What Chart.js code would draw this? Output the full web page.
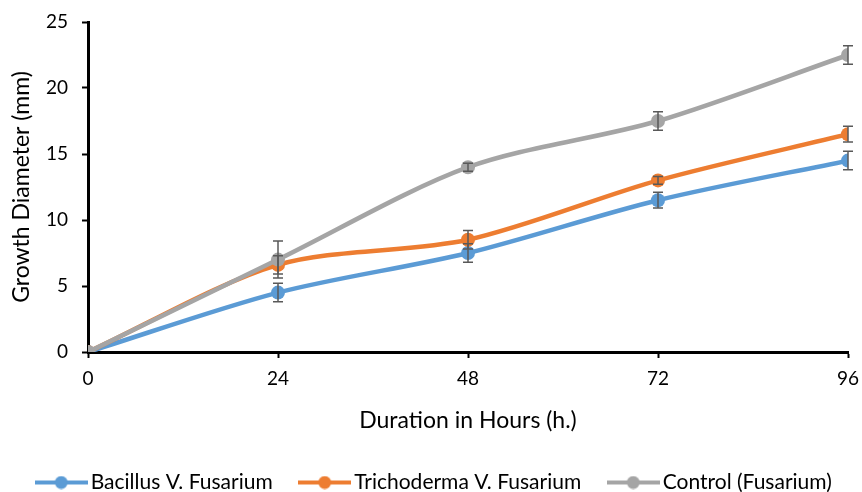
<!DOCTYPE html>
<html>
<head>
<meta charset="utf-8">
<script src="https://cdn.jsdelivr.net/npm/chart.js@4.4.1/dist/chart.umd.min.js"></script>
<style>
    html, body { margin: 0; padding: 0; background: #fff; }
    #wrap { width: 862px; height: 492px; }
</style>
</head>
<body>
<div id="wrap"><canvas id="chart1"></canvas></div>
<script>
const hours = [0, 24, 48, 72, 96];
const bacillus = [0, 4.5, 7.5, 11.5, 14.5];
const trichoderma = [0, 6.6, 8.5, 13, 16.5];
const control = [0, 7, 14, 17.5, 22.5];
const bacillusErr = [0, 0.7, 0.7, 0.6, 0.7];
const trichodermaErr = [0, 0.7, 0.7, 0.3, 0.6];
const controlErr = [0, 1.4, 0.3, 0.7, 0.7];
const seriesNames = ['Bacillus V. Fusarium', 'Trichoderma V. Fusarium', 'Control (Fusarium)'];
const seriesColors = ['#5B9BD5', '#ED7D31', '#A5A5A5'];

Chart.defaults.font.family = 'Lato, "Open Sans", sans-serif';
Chart.defaults.color = '#000';

// legend marker: short line with a dot in the middle
function legendMarker(color) {
    const c = document.createElement('canvas');
    c.width = 53;
    c.height = 14;
    const g = c.getContext('2d');
    g.strokeStyle = color;
    g.lineWidth = 4;
    g.beginPath();
    g.moveTo(0, 7);
    g.lineTo(53, 7);
    g.stroke();
    g.fillStyle = color;
    g.beginPath();
    g.arc(26.5, 7, 6.5, 0, Math.PI * 2);
    g.fill();
    return c;
}

function makeSet(i, values, errors) {
    return {
        label: seriesNames[i],
        data: hours.map((h, k) => ({ x: h, y: values[k] })),
        errors: errors,
        borderColor: seriesColors[i],
        backgroundColor: seriesColors[i],
        borderWidth: 4.5,
        pointRadius: 7,
        pointHoverRadius: 7,
        pointBorderWidth: 0,
        tension: 0.3,
        fill: false,
        order: 2 - i,
    };
}

const errorBars = {
    id: 'errorBars',
    afterDatasetsDraw(chart) {
        const ctx = chart.ctx;
        const xs = chart.scales.x;
        const ys = chart.scales.y;
        ctx.save();
        ctx.strokeStyle = '#595959';
        ctx.lineWidth = 1.5;
        chart.data.datasets.forEach((ds) => {
            ds.data.forEach((p, k) => {
                const e = ds.errors[k];
                if (!e) return;
                const px = xs.getPixelForValue(p.x);
                const top = ys.getPixelForValue(p.y + e);
                const bot = ys.getPixelForValue(p.y - e);
                ctx.beginPath();
                ctx.moveTo(px, top);
                ctx.lineTo(px, bot);
                ctx.moveTo(px - 5, top);
                ctx.lineTo(px + 5, top);
                ctx.moveTo(px - 5, bot);
                ctx.lineTo(px + 5, bot);
                ctx.stroke();
            });
        });
        ctx.restore();
    }
};

const chart1 = new Chart(document.querySelector('#chart1'), {
    type: 'line',
    data: {
        datasets: [
            makeSet(0, bacillus, bacillusErr),
            makeSet(1, trichoderma, trichodermaErr),
            makeSet(2, control, controlErr),
        ]
    },
    options: {
        responsive: true,
        maintainAspectRatio: false,
        animation: false,
        layout: {
            padding: { left: 6, right: -6, top: 0, bottom: -11 }
        },
        scales: {
            x: {
                type: 'linear',
                min: 0,
                max: 96,
                ticks: {
                    stepSize: 24,
                    padding: 9,
                    font: { size: 19 },
                },
                grid: {
                    drawOnChartArea: false,
                    color: '#000',
                    tickLength: 6,
                    tickWidth: 2,
                },
                border: { color: '#000', width: 3 },
                title: {
                    display: true,
                    text: 'Duration in Hours (h.)',
                    font: { size: 23 },
                    padding: { top: 10, bottom: 5 },
                },
                afterFit: (scale) => {
                    scale.height = 87;
                    scale.paddingLeft = 0;
                    scale.paddingRight = 14;
                },
            },
            y: {
                min: 0,
                max: 25,
                ticks: {
                    stepSize: 5,
                    padding: 14,
                    font: { size: 19 },
                },
                grid: {
                    drawOnChartArea: false,
                    color: '#000',
                    tickLength: 6,
                    tickWidth: 2,
                },
                border: { color: '#000', width: 3 },
                title: {
                    display: true,
                    text: 'Growth Diameter (mm)',
                    font: { size: 23 },
                    padding: { top: 2, bottom: 4 },
                },
                afterFit: (scale) => {
                    scale.width = 82;
                    scale.paddingTop = 22;
                    scale.paddingBottom = 0;
                },
            }
        },
        plugins: {
            legend: {
                position: 'bottom',
                labels: {
                    usePointStyle: true,
                    pointStyleWidth: 38,
                    padding: 33,
                    font: { size: 21 },
                    generateLabels: (chart) => chart.data.datasets.map((ds, i) => ({
                        text: ds.label,
                        pointStyle: legendMarker(seriesColors[i]),
                        fillStyle: seriesColors[i],
                        strokeStyle: seriesColors[i],
                        lineWidth: 0,
                        datasetIndex: i,
                        hidden: false,
                    })),
                }
            },
            tooltip: { enabled: false },
        }
    },
    plugins: [errorBars],
});
</script>
</body>
</html>
